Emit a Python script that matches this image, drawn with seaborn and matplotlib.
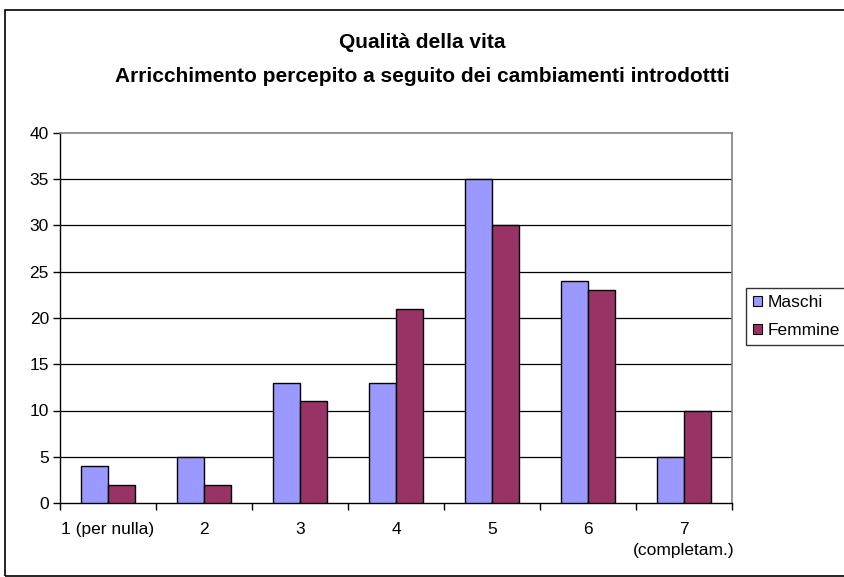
import matplotlib
matplotlib.use("Agg")
import matplotlib.pyplot as plt
import matplotlib.patches as mpatches
import seaborn as sns
import pandas as pd

categories = ["1 (per nulla)", "2", "3", "4", "5", "6", "7\n(completam.)"]
maschi = [4, 5, 13, 13, 35, 24, 5]
femmine = [2, 2, 11, 21, 30, 23, 10]
series_names = ["Maschi", "Femmine"]
colors = ["#9999FF", "#993366"]

df = pd.DataFrame({
    "categoria": categories * 2,
    "valore": maschi + femmine,
    "sesso": [series_names[0]] * len(categories) + [series_names[1]] * len(categories),
})

sns.set_theme(style="white")
plt.rcParams["font.family"] = ["Liberation Sans", "DejaVu Sans"]
plt.rcParams["text.color"] = "black"

fig = plt.figure(figsize=(8.44, 5.77), dpi=100)
ax = fig.add_axes([60 / 844, 1 - 503 / 577, (732 - 60) / 844, (503 - 133) / 577])

sns.barplot(data=df, x="categoria", y="valore", hue="sesso", order=categories,
            hue_order=series_names, palette=colors, width=0.56, gap=0,
            edgecolor="black", linewidth=1, saturation=1, ax=ax, legend=False,
            zorder=3)

ax.set_ylim(0, 40)
ax.set_xlim(-0.5, len(categories) - 0.5)
ax.set_yticks(range(0, 45, 5))
ax.set_xlabel("")
ax.set_ylabel("")
for y in range(5, 40, 5):
    ax.axhline(y, color="black", lw=0.9, zorder=1)

for side in ["top", "right"]:
    ax.spines[side].set_color("#808080")
    ax.spines[side].set_linewidth(1.2)
for side in ["left", "bottom"]:
    ax.spines[side].set_color("black")
    ax.spines[side].set_linewidth(1)

ax.set_xticks([i - 0.5 for i in range(len(categories) + 1)], minor=True)
ax.tick_params(axis="x", which="major", length=0, pad=14, labelsize=12.5, colors="black")
ax.tick_params(axis="x", which="minor", length=5, width=1, color="black", direction="out", bottom=True)
ax.tick_params(axis="y", length=5, width=1, color="black", direction="out", left=True,
               labelsize=12.5, pad=3, colors="black")
ax.set_xticks(range(len(categories)))
ax.set_xticklabels(categories, linespacing=1.45, va="top")

fig.text(0.5, 1 - 42 / 577, "Qualità della vita", ha="center", va="center",
         fontsize=15, fontweight="bold", color="black")
fig.text(0.5, 1 - 76 / 577, "Arricchimento percepito a seguito dei cambiamenti introdottti",
         ha="center", va="center", fontsize=15, fontweight="bold", color="black")

handles = [mpatches.Patch(facecolor=c, edgecolor="black", lw=0.8, label=n)
           for c, n in zip(colors, series_names)]
leg = fig.legend(handles=handles, loc="upper left", bbox_to_anchor=(746 / 844, 1 - 288 / 577),
                 frameon=True, fontsize=12.5, handlelength=0.55, handleheight=0.55,
                 handletextpad=0.3, borderpad=0.4, labelspacing=0.75, fancybox=False,
                 borderaxespad=0)
leg.get_frame().set_edgecolor("black")
leg.get_frame().set_linewidth(1)

border = mpatches.Rectangle((5 / 844, 1 / 577), 1.0, 1 - 11 / 577, transform=fig.transFigure,
                            fill=False, edgecolor="black", lw=1.2)
fig.patches.append(border)

fig.savefig("out.png", dpi=100)
